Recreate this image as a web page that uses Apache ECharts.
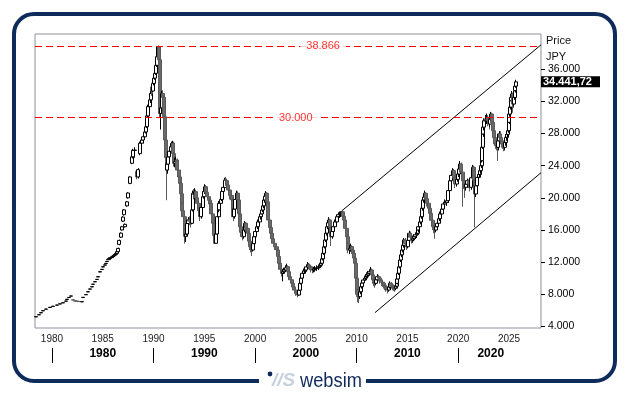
<!DOCTYPE html>
<html><head><meta charset="utf-8">
<script src="https://cdn.jsdelivr.net/npm/echarts@6/dist/echarts.min.js"></script>
<style>html,body{margin:0;padding:0;background:#fff}#c{width:629px;height:395px}</style>
</head><body><div id="c"></div>
<script>
// candles: [chartYear, open, close, low, high]
const era1978 = [
[1978.42,5180,5200,5170,5215],[1978.70,5430,5450,5420,5465],[1978.95,5680,5700,5670,5715],
[1979.14,5930,5950,5920,5965],[1979.45,6130,6150,6120,6165],[1979.80,6350,6370,6340,6385],
[1980.10,6480,6500,6470,6515],[1980.46,6630,6650,6620,6665],[1980.80,6780,6800,6770,6815],
[1981.11,6920,6940,6910,6955],[1981.35,7130,7150,7120,7165],[1981.51,7350,7370,7340,7385],
[1981.70,7580,7600,7570,7615],[1981.84,7760,7780,7750,7795],[1982.10,7300,7280,7270,7310],
[1982.30,7170,7150,7140,7180],[1982.49,7140,7120,7110,7150],[1982.70,7100,7080,7070,7110],
[1982.92,7050,7070,7040,7085],[1983.08,7590,7610,7580,7625],[1983.35,7930,7950,7920,7965],
[1983.57,8290,8310,8280,8325],[1983.75,8630,8650,8620,8665],[1983.91,8910,8930,8900,8945],
[1984.08,9230,9250,9220,9265],[1984.23,9540,9560,9530,9575],[1984.40,9830,9850,9820,9865],
[1984.56,10150,10180,10140,10195],[1984.73,10770,10800,10760,10815],[1984.90,11070,11100,11060,11115],
[1985.05,11390,11420,11380,11435],[1985.20,11620,11650,11610,11665],[1985.32,11820,11850,11810,11865],
[1985.45,12070,12100,12060,12115],[1985.54,12320,12350,12310,12365],[1985.65,12300,12450,12250,12500],
[1985.76,12450,12550,12350,12650],[1985.88,12550,12670,12450,12750],[1986.00,12670,12750,12550,12850],
[1986.10,12750,12850,12650,12950],[1986.20,12850,12950,12750,13050],[1986.30,12950,13090,12850,13200],
[1986.42,13090,13300,12950,13400],[1986.53,13300,13700,13200,13800],[1986.63,14200,14700,14100,14800],
[1986.76,15100,15600,15000,15700],[1986.86,16000,16400,15900,16500],[1986.97,17100,17600,17000,17700],
[1987.10,17900,18500,17800,18600],[1987.19,16400,16700,16300,16800],[1987.35,19000,19500,18900,19600],
[1987.51,20000,20600,19900,20700],[1987.68,21800,22600,21700,22700],[1987.85,24300,25100,24200,25300],
[1988.00,25100,25900,24900,26100],[1988.17,25900,25950,25000,26300],[1988.34,23300,22600,22300,23500],
[1988.50,22600,23500,22400,23700],[1988.66,25500,26800,25300,27000],[1988.83,26800,27200,26300,27500],
[1988.99,27200,27600,26800,27900],[1989.12,27600,28200,27300,28400],[1989.26,28200,28850,28000,29100],
[1989.38,28850,30200,28700,30400],[1989.48,30200,31350,30000,31600],[1989.62,31350,32200,31100,32500],
[1989.75,32200,33000,31800,33300],[1989.87,33800,33300,32700,34000],[1989.97,33300,34250,33100,34500]
];
const era1990 = [
[1990.06,34250,34900,34000,35200],[1990.14,34900,35500,34700,35800],[1990.22,35500,36500,35300,36800],
[1990.31,36500,37570,36300,37900],[1990.40,37570,38300,37300,38600],[1990.47,38300,38800,37900,38957],
[1990.56,38800,37200,36800,38900],[1990.63,37200,30500,30000,37400],[1990.72,30500,31200,28500,31800],
[1990.82,31200,33000,30500,33300],[1990.90,33000,32500,31500,33400],[1991.03,32500,30100,29800,32700],
[1991.13,30100,27200,26800,30300],[1991.21,27200,25000,24600,27400],[1991.29,25000,23460,19700,25300],
[1991.37,23460,24200,23000,24600],[1991.45,24200,25100,23900,25500],[1991.57,25100,25800,24800,26200],
[1991.69,25800,26360,25500,26800],[1991.78,26360,26500,25900,27000],[1991.88,26500,26790,26000,27100],
[1991.95,26790,25500,25200,27000],[1992.01,25500,24300,23900,25700],[1992.10,24300,24500,23800,25000],
[1992.21,24500,24700,24000,25100],[1992.34,24700,23460,23000,24900],[1992.47,23460,22600,22200,23700],
[1992.60,22600,21800,21300,22800],[1992.68,21800,20500,20100,22000],[1992.77,20500,19300,18900,20700],
[1992.85,19300,18400,17900,19500],[1992.93,18400,17650,17200,18600],[1993.05,17650,16000,15500,17800],
[1993.12,16000,15200,14300,16200],[1993.19,15200,15500,14500,16000],[1993.30,15500,16800,15300,17100],
[1993.42,16800,17240,16400,17600],[1993.54,17240,17100,16600,17700],[1993.66,17100,16830,16300,17300],
[1993.75,16830,18500,16700,18800],[1993.85,18500,20560,18300,20900],[1993.97,20560,20400,19800,21100],
[1994.08,20400,20760,20000,21200],[1994.20,20760,20000,19600,21000],[1994.31,20000,19320,18900,20200],
[1994.45,19320,18400,17900,19500],[1994.57,18400,17650,17100,18600],[1994.70,17650,18800,17400,19100],
[1994.84,18800,20140,18600,20500],[1994.95,20140,20800,19900,21200],[1995.06,20800,21380,20500,21700],
[1995.18,21380,20700,20300,21600],[1995.29,20700,20140,19700,20900],[1995.42,20140,19700,19200,20400],
[1995.56,19700,19320,18800,19900],[1995.70,19320,18000,17600,19500],[1995.82,18000,16830,16400,18200],
[1995.95,16830,15300,14900,17000],[1996.05,15300,14340,14250,15500],[1996.15,14340,15500,14300,15800],
[1996.28,15500,17650,15300,17900],[1996.40,17650,18500,17300,18800],[1996.47,18500,19320,18200,19600],
[1996.60,19320,19800,18900,20200],[1996.75,19800,20800,19600,21100],[1996.87,20800,21300,20500,21700],
[1997.03,21300,22200,21000,22500],[1997.13,22200,22130,21500,22600],[1997.25,22130,21600,21100,22400],
[1997.36,21600,20970,20400,21900],[1997.50,20970,20300,19800,21300],[1997.70,20300,19730,19100,20600],
[1997.78,19730,18700,18200,20000],[1997.85,18700,17650,17100,18900],[1997.95,17650,18600,17400,19000],
[1998.05,18600,19800,18300,20100],[1998.19,19800,20560,19500,20900],[1998.34,20560,19730,19200,20800],
[1998.42,19730,18000,17600,19900],[1998.51,18000,16400,16000,18200],[1998.62,16400,15700,15300,16700],
[1998.74,15700,15160,14700,16000],[1998.87,15160,16000,14900,16400],[1999.00,16000,16830,15700,17100],
[1999.12,16830,16200,15800,17000],[1999.27,16200,15580,15100,16400],[1999.38,15580,14600,14200,15800],
[1999.50,14600,13910,13500,14800],[1999.58,13910,13700,13200,14100],[1999.66,13700,13500,12760,13900],
[1999.79,13500,14300,13300,14600],[1999.92,14300,15160,14100,15500]
];
const era2000 = [
[2000.04,15160,15800,14900,16100],[2000.16,15800,16400,15500,16700],[2000.30,16400,17000,16100,17300],
[2000.49,17000,17650,16700,17900],[2000.60,17650,18000,17300,18400],[2000.71,18000,18480,17700,18800],
[2000.80,18480,19000,18200,19300],[2000.90,19000,19730,18700,20000],[2000.97,19730,20200,19400,20500],
[2001.04,20200,20560,19900,20833],[2001.15,20560,19500,19100,20700],[2001.30,19500,17240,16900,19700],
[2001.43,17240,16300,15900,17500],[2001.56,16300,15580,15100,16500],[2001.68,15580,14900,14500,15800],
[2001.79,14900,14340,13900,15100],[2001.95,14340,13900,13500,14600],[2002.13,13900,13500,13000,14100],
[2002.25,13500,12700,12300,13700],[2002.35,12700,11850,11400,12900],[2002.50,11850,11100,10700,12000],
[2002.62,11100,10600,10200,11300],[2002.75,10600,10800,9600,11100],[2002.87,10800,11010,10500,11300],
[2003.00,11010,11300,10800,11600],[2003.11,11300,11420,10900,11800],[2003.22,11420,10800,10400,11600],
[2003.34,10800,10180,9800,11000],[2003.47,10180,9800,9400,10300],[2003.60,9800,9360,9000,9900],
[2003.73,9360,8900,8500,9500],[2003.86,8900,8520,8100,9000],[2004.02,8520,8100,7800,8700],
[2004.19,8100,7900,7607,8300],[2004.30,7900,8500,7800,8700],[2004.42,8500,9360,8400,9600],
[2004.54,9360,10000,9200,10300],[2004.65,10000,10600,9800,10900],[2004.78,10600,10900,10300,11200],
[2004.91,10900,11010,10600,11400],[2005.05,11010,11400,10800,11700],[2005.18,11400,11640,11100,12000],
[2005.30,11640,11500,11100,11900],[2005.40,11500,11420,11000,11800],[2005.52,11420,11100,10700,11600],
[2005.63,11100,11010,10600,11300],[2005.77,11010,11150,10700,11400],[2005.90,11150,11230,10800,11500],
[2006.05,11230,11300,10900,11600],[2006.22,11300,11420,11000,11700],[2006.35,11420,11600,11200,11900],
[2006.49,11600,11850,11300,12100],[2006.60,11850,12400,11700,12600],[2006.71,12400,13090,12200,13300],
[2006.80,13090,13900,12900,14200],[2006.88,13900,14750,13700,15000],[2006.98,14750,15600,14500,15900],
[2007.08,15600,16400,15300,16700],[2007.18,16400,16900,16100,17200],[2007.27,16900,17240,16600,17600],
[2007.37,17240,16300,15900,17400],[2007.47,16300,15160,14000,16500],[2007.60,15160,15800,14900,16100],
[2007.70,15800,16400,15500,16700],[2007.85,16400,17000,16100,17300],[2008.03,17000,17650,16700,17900],
[2008.20,17650,17900,17200,18200],[2008.36,17900,18070,17500,18300],[2008.45,18070,18150,17600,18300],
[2008.53,18150,18270,17700,18300],[2008.65,18270,17700,17300,18300],[2008.75,17700,17240,16800,17900],
[2008.88,17240,16200,15800,17400],[2009.02,16200,15160,14800,16400],[2009.10,15160,14300,13900,15400],
[2009.17,14300,13500,13100,14500],[2009.30,13500,13700,13000,14100],[2009.41,13700,13910,13300,14300],
[2009.55,13910,13500,13000,14100],[2009.67,13500,13090,12600,13700],[2009.75,13090,12500,12100,13300],
[2009.83,12500,11850,11300,12700],[2009.92,11850,10000,9500,12000]
];
const era2010 = [
[2010.00,10000,8520,7800,10200],[2010.08,8520,8000,7000,8700],[2010.16,8000,7690,6900,8500],
[2010.28,7690,8300,7400,8600],[2010.40,8300,8930,8000,9200],[2010.52,8930,9400,8700,9700],
[2010.65,9400,9770,9100,10000],[2010.78,9770,10000,9500,10300],[2010.92,10000,10180,9700,10500],
[2011.03,10180,10400,9900,10700],[2011.14,10400,10600,10100,10900],[2011.25,10600,10800,10300,11100],
[2011.38,10800,11010,10400,11400],[2011.48,11010,10400,10000,11200],[2011.58,10400,9770,9300,10600],
[2011.70,9770,9500,9000,10000],[2011.80,9500,9360,8800,9800],[2011.92,9360,9800,9100,10100],
[2012.03,9800,10180,9600,10500],[2012.17,10180,10000,9600,10400],[2012.30,10000,9770,9300,10200],
[2012.43,9770,9500,9000,9900],[2012.56,9500,9360,8900,9800],[2012.68,9360,9100,8700,9500],
[2012.79,9100,8930,8500,9300],[2012.90,8930,8700,8300,9100],[2013.02,8700,8520,8100,8900],
[2013.15,8520,8900,8300,9200],[2013.28,8900,9360,8700,9600],[2013.42,9360,9100,8700,9500],
[2013.55,9100,8930,8500,9300],[2013.66,8930,8800,8400,9200],[2013.77,8800,8740,8300,9100],
[2013.86,8740,9000,8500,9300],[2013.94,9000,9360,8800,9600],[2014.02,9360,9900,9200,10100],
[2014.10,9900,10600,9700,10900],[2014.18,10600,11400,10400,11700],[2014.27,11400,12260,11200,12500],
[2014.35,12260,12900,12000,13200],[2014.43,12900,13500,12600,13800],[2014.55,13500,14100,13200,14400],
[2014.66,14100,14750,13800,15000],[2014.80,14750,14300,13900,15000],[2014.93,14300,13910,13500,14500],
[2015.05,13910,14700,13700,15000],[2015.18,14700,15580,14400,15900],[2015.30,15580,15100,14700,15800],
[2015.42,15100,14750,14300,15300],[2015.53,14750,14950,14400,15300],[2015.64,14950,15160,14600,15500],
[2015.78,15160,15400,14900,15700],[2015.91,15400,15580,15000,15900],[2016.00,15580,16000,15300,16300],
[2016.07,16000,16400,15700,16700],[2016.20,16400,17000,16100,17300],[2016.31,17000,17650,16700,17900],
[2016.40,17650,18700,17400,19000],[2016.50,18700,19730,18400,20000],[2016.62,19730,20100,19400,20500],
[2016.73,20100,20560,19800,20900],[2016.84,20560,19900,19400,20700],[2016.95,19900,19320,18900,20100],
[2017.08,19320,18700,18200,19500],[2017.22,18700,18070,17600,18900],[2017.35,18070,17200,16800,18300],
[2017.49,17200,16400,16000,17400],[2017.60,16400,16100,15600,16600],[2017.71,16100,15990,14900,16400],
[2017.82,15990,16400,15700,16700],[2017.94,16400,16830,16100,17100],[2018.07,16830,17400,16600,17700],
[2018.20,17400,17990,17100,18300],[2018.36,17990,18600,17700,18900],[2018.53,18600,19230,18300,19500],
[2018.70,19230,19400,18800,19800],[2018.86,19400,19640,19000,20000],[2019.02,19640,20900,19400,21200],
[2019.19,20900,22130,20600,22400],[2019.32,22130,22800,21800,23100],[2019.45,22800,23380,22400,23700],
[2019.57,23380,22500,22000,23600],[2019.68,22500,21720,21200,22700],[2019.84,21720,22300,21400,22600]
];
const era2020 = [
[2020.00,22300,22970,22000,23300],[2020.09,22970,23600,22600,23900],[2020.17,23600,24210,23300,24600],
[2020.30,24210,23200,22700,24400],[2020.44,23200,22130,18900,23400],[2020.56,22130,21700,21100,22300],
[2020.67,21700,21310,20000,21900],[2020.78,21310,21700,20900,22000],[2020.89,21700,22130,21300,22400],
[2021.02,22130,21700,21200,22300],[2021.16,21700,21310,20800,21900],[2021.30,21310,22500,21000,22800],
[2021.43,22500,23800,22200,24100],[2021.55,23800,22200,21700,24000],[2021.66,22200,20480,16330,22400],
[2021.77,20480,21500,20100,21800],[2021.88,21500,22550,21200,22900],[2022.02,22550,22900,22100,23200],
[2022.15,22900,23380,22500,23700],[2022.24,23380,24000,23000,24300],[2022.31,24000,24620,23700,24900],
[2022.36,24620,26300,24400,26600],[2022.41,26300,27950,26100,28200],[2022.48,27950,28800,27600,29100],
[2022.54,28800,29600,28400,29900],[2022.67,29600,29800,28900,30300],[2022.80,29800,30020,29200,30500],
[2022.93,30020,29600,28900,30300],[2023.06,29600,29190,28500,29900],[2023.15,29190,29800,28800,30200],
[2023.23,29800,30430,29400,30700],[2023.34,30430,29400,28900,30600],[2023.45,29400,28360,27800,29600],
[2023.55,28360,27500,27000,28600],[2023.65,27500,26700,26100,27800],[2023.75,26700,26500,25900,27200],
[2023.85,26500,26290,24600,27000],[2023.95,26290,27100,25900,27400],[2024.04,27100,27950,26800,28300],
[2024.14,27950,27500,27000,28300],[2024.24,27500,27110,26500,27800],[2024.34,27110,26700,26100,27400],
[2024.44,26700,26290,25800,27000],[2024.57,26290,26900,25900,27300],[2024.70,26900,27530,26500,27900],
[2024.80,27530,27900,27100,28300],[2024.90,27900,28360,27500,28700],[2024.97,28360,29400,28100,29700],
[2025.03,29400,30430,29200,30700],[2025.10,30430,31300,30100,31600],[2025.17,31300,32090,31000,32400],
[2025.24,32090,32500,31700,32900],[2025.30,32500,32930,32000,33300],[2025.37,32930,32300,30600,33100],
[2025.43,32300,31680,31200,32500],[2025.50,31680,32500,31400,32800],[2025.56,32500,33340,32200,33700],
[2025.62,33340,33900,33100,34200],[2025.66,33900,34441.72,33700,34700]
];

const yearTicks = [1980,1985,1990,1995,2000,2005,2010,2015,2020,2025];
const decadeTicks = [1980,1990,2000,2010,2020];
const decadeLabelPos = [1985,1995,2005,2015,2023.2];
const decadeLabels = ['1980','1990','2000','2010','2020'];
const priceTicks = [4000,8000,12000,16000,20000,24000,28000,32000,36000];
const levelValues = [38866,30000];
const levelLabelYears = [2006.7,2004.0];
const upperChannel = [[2008.52,18358],[2028.15,39050]];
const lowerChannel = [[2011.80,5697],[2028.15,23127]];
const lastPrice = 34441.72;

const FONT = '"Liberation Sans", Arial, sans-serif';
function fmtThousands(v){ return String(Math.round(v)).replace(/\B(?=(\d{3})+(?!\d))/g,'.'); }
function fmtPrice(v){ const p = v.toFixed(2).split('.'); return fmtThousands(+p[0]) + ',' + p[1]; }

const candles = era1978.concat(era1990, era2000, era2010, era2020);
const X_MIN = 1978.33, X_MAX = 2028.15;

const chart = echarts.init(document.getElementById('c'), null, {renderer:'canvas'});
chart.setOption({
  animation:false,
  backgroundColor:'#fff',
  textStyle:{fontFamily:FONT},
  grid:{left:35, top:34, right:88, bottom:67, show:true, borderColor:'#8f8fa0', borderWidth:1, backgroundColor:'#fff'},
  xAxis:[
    {type:'value', min:X_MIN, max:X_MAX, axisLine:{show:false}, axisTick:{show:false}, splitLine:{show:false},
     axisLabel:{customValues:yearTicks, margin:6, fontSize:10, color:'#222', fontFamily:FONT,
       formatter:function(v){ return String(Math.round(v)); }}},
    {type:'value', position:'bottom', offset:20, min:X_MIN, max:X_MAX, axisLine:{show:false}, splitLine:{show:false},
     axisTick:{show:true, customValues:decadeTicks, length:15, lineStyle:{color:'#000', width:1}},
     axisLabel:{customValues:decadeLabelPos, margin:0, fontSize:12, fontWeight:'bold', color:'#000', fontFamily:FONT,
       formatter:function(v){ for(let i=0;i<decadeLabelPos.length;i++){ if(Math.abs(decadeLabelPos[i]-v)<0.01) return decadeLabels[i]; } return ''; }}}
  ],
  yAxis:{type:'value', position:'right', min:3790, max:40400, axisLine:{show:false}, splitLine:{show:false},
    axisTick:{show:true, customValues:priceTicks, length:4, lineStyle:{color:'#000'}},
    axisLabel:{customValues:priceTicks, margin:7, fontSize:10.5, color:'#000', fontFamily:FONT, formatter:fmtThousands}},
  series:[
    {type:'candlestick', data:candles, barWidth:3.5, z:2,
     itemStyle:{color:'#fff', color0:'#6a6a6a', borderColor:'#000', borderColor0:'#5a5a5a', borderWidth:1},
     markLine:{silent:true, symbol:'none', label:{show:false},
       lineStyle:{color:'#ff0000', type:[7,4], width:1},
       data:levelValues.map(v=>({yAxis:v}))}},
    {type:'line', data:upperChannel, symbol:'none', silent:true, z:3, lineStyle:{color:'#000', width:1}},
    {type:'line', data:lowerChannel, symbol:'none', silent:true, z:3, lineStyle:{color:'#000', width:1}},
    {type:'scatter', z:5, silent:true, symbolSize:1, itemStyle:{color:'rgba(0,0,0,0)'},
     data:levelLabelYears.map((x,i)=>[x, levelValues[i]]),
     label:{show:true, position:'inside', color:'#ff0000', fontSize:11, fontFamily:FONT, backgroundColor:'#fff', padding:[1,6],
       formatter:p=>fmtThousands(p.value[1])}}
  ]
});

const py = chart.convertToPixel({yAxisIndex:0}, lastPrice);
const NAVY = '#0f2b5b';
chart.setOption({
  graphic:[
    {type:'rect', z:50, silent:true, shape:{x:14, y:14, width:601, height:367, r:20}, style:{fill:'none', stroke:NAVY, lineWidth:4}},
    {type:'rect', z:51, silent:true, shape:{x:259, y:375, width:107, height:12}, style:{fill:'#fff'}},
    {type:'circle', z:52, silent:true, shape:{cx:270, cy:374, r:2.4}, style:{fill:NAVY}},
    {type:'text', z:52, silent:true, x:272, y:381, style:{text:'//S', font:'italic bold 19px '+FONT, fill:'#c6d1de', verticalAlign:'middle'}},
    {type:'text', z:52, silent:true, x:300, y:381, scaleX:0.87, style:{text:'websim', font:'21px '+FONT, fill:NAVY, verticalAlign:'middle'}},
    {type:'text', z:52, silent:true, x:546, y:41, style:{text:'Price', font:'11px '+FONT, fill:'#111', verticalAlign:'middle'}},
    {type:'text', z:52, silent:true, x:546, y:57, style:{text:'JPY', font:'11px '+FONT, fill:'#111', verticalAlign:'middle'}},
    {type:'rect', z:60, silent:true, shape:{x:541, y:py-5.5, width:59, height:11}, style:{fill:'#000'}},
    {type:'text', z:61, silent:true, x:543, y:py, style:{text:fmtPrice(lastPrice), font:'bold 11px '+FONT, fill:'#fff', verticalAlign:'middle'}}
  ]
});
</script>
</body></html>
